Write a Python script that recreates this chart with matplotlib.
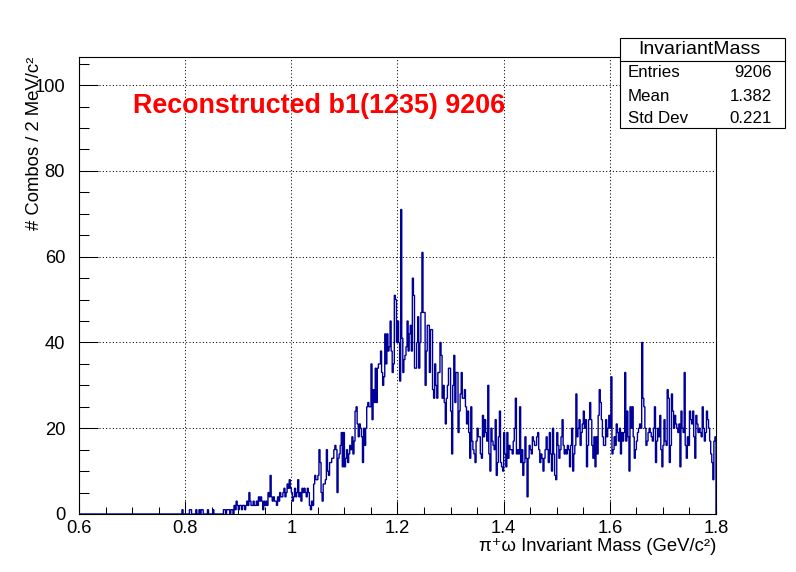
import numpy as np
import matplotlib
matplotlib.use("Agg")
import matplotlib.pyplot as plt
from matplotlib.patches import Rectangle
from matplotlib.lines import Line2D

# ---- data ----
x_min, x_max, n_bins = 0.6, 1.8, 600
counts = [
    # 0.600 - 0.800
    0, 0, 0, 0, 0, 0, 0, 0, 0, 0,  0, 0, 0, 0, 0, 0, 0, 0, 0, 0,
    0, 0, 0, 0, 0, 0, 0, 0, 0, 0,  0, 0, 0, 0, 0, 0, 0, 0, 0, 0,
    0, 0, 0, 0, 0, 0, 0, 0, 0, 0,  0, 0, 0, 0, 0, 0, 0, 0, 0, 0,
    0, 0, 0, 0, 0, 0, 0, 0, 0, 0,  0, 0, 0, 0, 0, 0, 0, 0, 0, 0,
    0, 0, 0, 0, 0, 0, 0, 0, 0, 0,  0, 0, 0, 0, 0, 0, 0, 1, 0, 0,
    # 0.800 - 0.900
    0, 0, 0, 0, 1, 1, 0, 0, 0, 0,  1, 0, 0, 1, 0, 1, 1, 0, 0, 0,
    0, 1, 0, 0, 0, 0, 1, 0, 0, 0,  0, 0, 0, 0, 0, 0, 1, 1, 0, 1,
    1, 1, 0, 1, 1, 0, 2, 1, 3, 2,
    # 0.900 - 1.000
    1, 2, 2, 1, 2, 2, 1, 2, 3, 2,  5, 3, 2, 2, 3, 2, 2, 3, 2, 4,
    3, 4, 3, 1, 3, 2, 3, 2, 5, 4,  9, 4, 3, 4, 3, 3, 2, 4, 3, 5,
    4, 4, 5, 6, 4, 5, 7, 6, 8, 6,
    # 1.000 - 1.100
    5, 3, 4, 6, 4, 5, 8, 4, 5, 3,  6, 5, 6, 5, 4, 6, 5, 2, 1, 3,
    2, 7, 9, 8, 8, 9, 15, 12, 5, 3,  7, 7, 8, 15, 10, 9, 12, 12, 13, 13,
    15, 16, 15, 5, 13, 14, 16, 19, 11, 19,
    # 1.100 - 1.200
    11, 13, 15, 12, 14, 16, 15, 18, 14, 17,  24, 25, 21, 18, 21, 20, 18, 12, 20, 16,
    20, 25, 26, 25, 25, 35, 22, 29, 26, 34,  26, 34, 35, 35, 38, 33, 30, 32, 42, 35,
    42, 38, 39, 45, 38, 33, 35, 51, 50, 40,
    # 1.200 - 1.300
    45, 40, 31, 71, 41, 33, 36, 37, 39, 45,  38, 42, 44, 38, 55, 51, 34, 34, 40, 46,
    34, 40, 47, 61, 47, 47, 30, 38, 44, 44,  33, 43, 43, 29, 27, 35, 30, 27, 33, 33,
    40, 37, 27, 30, 26, 21, 27, 30, 34, 34,
    # 1.300 - 1.400
    24, 14, 30, 37, 26, 33, 33, 19, 24, 28,  33, 27, 27, 29, 25, 21, 24, 19, 13, 25,
    17, 15, 14, 12, 17, 20, 18, 18, 14, 13,  23, 18, 22, 19, 17, 30, 14, 10, 20, 17,
    16, 15, 22, 9, 12, 18, 24, 12, 11, 10,
    # 1.400 - 1.500
    19, 14, 11, 19, 13, 16, 15, 15, 14, 17,  20, 27, 14, 15, 14, 25, 12, 15, 9, 12,
    18, 13, 4, 13, 16, 15, 14, 18, 17, 16,  16, 18, 19, 15, 12, 14, 13, 10, 13, 15,
    18, 15, 12, 19, 14, 10, 20, 14, 9, 8,
    # 1.500 - 1.600
    19, 16, 13, 15, 18, 22, 16, 14, 15, 14,  16, 15, 11, 16, 20, 10, 14, 16, 28, 18,
    20, 22, 16, 19, 21, 24, 20, 22, 11, 16,  22, 26, 22, 16, 13, 18, 11, 18, 14, 23,
    29, 26, 22, 18, 16, 16, 22, 18, 20, 23,
    # 1.600 - 1.700
    20, 32, 14, 15, 18, 16, 21, 19, 17, 20,  14, 19, 17, 19, 33, 17, 24, 18, 10, 25,
    20, 25, 18, 13, 15, 17, 19, 20, 21, 20,  40, 27, 25, 20, 16, 17, 19, 20, 19, 18,
    17, 20, 25, 12, 17, 20, 18, 23, 15, 11,
    # 1.700 - 1.800
    16, 22, 17, 16, 29, 27, 12, 16, 28, 24,  20, 23, 21, 20, 19, 21, 11, 24, 20, 19,
    33, 16, 13, 18, 16, 24, 22, 21, 24, 18,  13, 23, 21, 19, 20, 19, 18, 25, 20, 17,
    19, 24, 22, 20, 17, 14, 12, 8, 17, 18,
]
x_major = [0.6, 0.8, 1.0, 1.2, 1.4, 1.6, 1.8]
x_major_labels = ["0.6", "0.8", "1", "1.2", "1.4", "1.6", "1.8"]
y_major = [0, 20, 40, 60, 80, 100]
y_major_labels = ["0", "20", "40", "60", "80", "100"]
stats_title = "InvariantMass"
stats_rows = [("Entries", "9206"), ("Mean", "1.382"), ("Std Dev", "0.221")]
title_text = "Reconstructed b1(1235) 9206"
x_label = "π⁺ω Invariant Mass (GeV/c²)"
y_label = "# Combos / 2 MeV/c²"

# ---- style ----
FAM = ["Liberation Sans", "DejaVu Sans"]
plt.rcParams["font.family"] = FAM
W, H = 796, 572
fig = plt.figure(figsize=(W / 100, H / 100), dpi=100)
fig.patch.set_facecolor("white")
ax = fig.add_axes([79 / W, 1 - 514 / H, (716 - 79) / W, (514 - 57.3) / H])

edges = np.linspace(x_min, x_max, n_bins + 1)
ax.stairs(counts, edges, color="#000099", lw=1.0, zorder=3)

ax.set_xlim(x_min, x_max)
ax.set_ylim(0, 106.5)
ax.set_xticks(x_major)
ax.set_xticklabels(x_major_labels)
ax.set_xticks(np.arange(0.6, 1.8001, 0.05), minor=True)
ax.set_yticks(y_major)
ax.set_yticklabels(y_major_labels)
ax.set_yticks(np.arange(0, 106, 5), minor=True)

ax.tick_params(axis="both", which="both", direction="in", top=False, right=False,
               width=0.75, labelsize=13.2, color="black")
ax.tick_params(axis="x", which="major", length=9.4, pad=4.5)
ax.tick_params(axis="x", which="minor", length=4.7)
ax.tick_params(axis="y", which="major", length=13.7, pad=10)
ax.tick_params(axis="y", which="minor", length=7.2)
for s in ax.spines.values():
    s.set_linewidth(0.8)
    s.set_color("black")

ax.grid(True, which="major", color="black", lw=0.75, linestyle=(0, (1, 2.2)))
ax.set_axisbelow(True)

# axis labels (ROOT style: right/top aligned)
fig.text(716 / W, 1 - 551 / H, x_label, ha="right", va="baseline",
         fontsize=13.3, family=FAM)
fig.text(35 / W, 1 - 57 / H, y_label, ha="center", va="top", rotation=90,
         fontsize=13.3, family=FAM)

# red title
fig.text(133 / W, 1 - 112.7 / H, title_text, ha="left", va="baseline",
         fontsize=19.4, fontweight="bold", color="#ff0000", family=FAM)

# stats box
bx0, bx1 = 620 / W, 785.3 / W
by_top, by_bot, by_sep = 1 - 37.7 / H, 1 - 128 / H, 1 - 61 / H
fig.add_artist(Rectangle((bx0, by_bot), bx1 - bx0, by_top - by_bot,
                         transform=fig.transFigure, facecolor="white",
                         edgecolor="black", lw=0.8, zorder=10))
fig.add_artist(Line2D([bx0, bx1], [by_sep, by_sep], transform=fig.transFigure,
                      color="black", lw=0.8, zorder=11))
fig.text(699 / W, 1 - 50 / H, stats_title, ha="center", va="center",
         fontsize=14, zorder=12, family=FAM)
row_y = [72.3, 96.2, 118.3]
for (lab, val), yy in zip(stats_rows, row_y):
    fig.text(628 / W, 1 - yy / H, lab, ha="left", va="center", fontsize=12.2,
             zorder=12, family=FAM)
    fig.text(772 / W, 1 - yy / H, val, ha="right", va="center", fontsize=12.2,
             zorder=12, family=FAM)

fig.savefig("out.png", dpi=100, facecolor="white")
